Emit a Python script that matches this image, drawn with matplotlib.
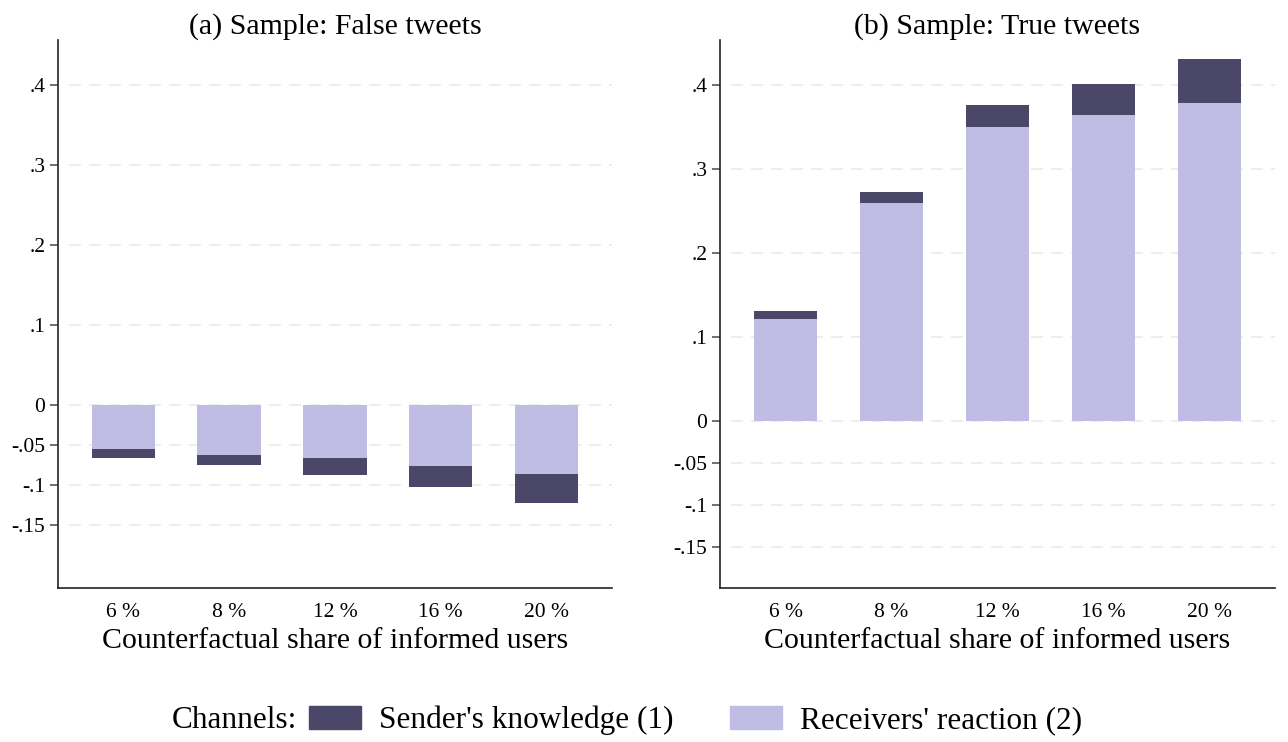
import numpy as np
import matplotlib
matplotlib.use("Agg")
import matplotlib.pyplot as plt
from matplotlib.patches import Patch

plt.rcParams['font.family'] = ['Liberation Serif', 'DejaVu Serif']

# data
shares = ["6 %", "8 %", "12 %", "16 %", "20 %"]

# (a) false tweets: receivers' reaction, sender's knowledge (negative values)
false_receivers = [-0.055, -0.0625, -0.067, -0.077, -0.087]
false_sender = [-0.011, -0.0125, -0.021, -0.026, -0.036]

# (b) true tweets
true_receivers = [0.121, 0.259, 0.350, 0.364, 0.378]
true_sender = [0.010, 0.013, 0.026, 0.037, 0.053]

ytick_vals = [-0.15, -0.1, -0.05, 0, 0.1, 0.2, 0.3, 0.4]
ytick_labels = ["-.15", "-.1", "-.05", "0", ".1", ".2", ".3", ".4"]

dark = "#4b4768"
light = "#bfbde3"

fig = plt.figure(figsize=(12.88, 7.42), dpi=100)
ax_a = fig.add_axes([0.045, 0.2075, 0.43, 0.7385])
ax_b = fig.add_axes([0.559, 0.2075, 0.431, 0.7385])


def draw_panel(ax, receivers, sender, title, ylim):
    x = np.arange(len(shares))
    ax.bar(x, receivers, width=0.6, color=light, zorder=2)
    ax.bar(x, sender, width=0.6, bottom=receivers, color=dark, zorder=2)
    ax.set_xlim(-0.62, 4.62)
    ax.set_ylim(*ylim)
    ax.set_yticks(ytick_vals)
    ax.set_yticklabels(ytick_labels, fontsize=15.5)
    ax.set_xticks(x)
    ax.set_xticklabels(shares, fontsize=15.5)
    ax.tick_params(axis='x', length=0, pad=11)
    ax.tick_params(axis='y', length=6, width=1.2, color="#555555", pad=3)
    for yv in ytick_vals:
        ax.axhline(yv, xmin=0.02, xmax=1, color="#eaeaea", lw=1.2,
                   ls=(0, (7.2, 4.8)), zorder=1)
    for s in ["top", "right"]:
        ax.spines[s].set_visible(False)
    for s in ["left", "bottom"]:
        ax.spines[s].set_color("#222222")
        ax.spines[s].set_linewidth(1.2)
    ax.set_title(title, fontsize=21.5, pad=2)
    ax.set_xlabel("Counterfactual share of informed users", fontsize=21.5, labelpad=4)


draw_panel(ax_a, false_receivers, false_sender, "(a) Sample: False tweets", (-0.229, 0.456))
draw_panel(ax_b, true_receivers, true_sender, "(b) Sample: True tweets", (-0.199, 0.453))

handles = [Patch(color=dark, label="Sender's knowledge (1)"),
           Patch(color=light, label="Receivers' reaction (2)")]
fig.legend(handles=handles, loc="center", bbox_to_anchor=(0.54, 0.029), ncol=2,
           frameon=False, fontsize=22.5, handlelength=1.67, handleheight=0.77,
           columnspacing=1.8, handletextpad=0.58, borderpad=0, borderaxespad=0)
fig.text(0.1335, 0.029, "Channels:", fontsize=22.5, va="center", ha="left")

fig.savefig("out.png", dpi=100)
